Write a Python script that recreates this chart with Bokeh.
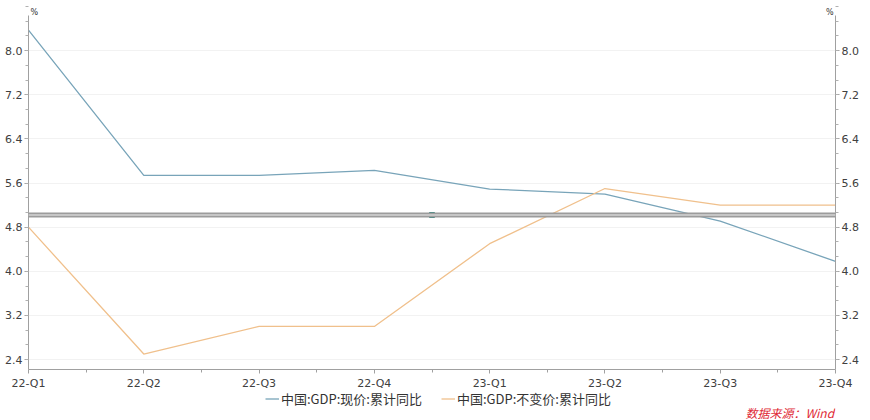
from bokeh.plotting import figure
from bokeh.layouts import column
from bokeh.models import (FixedTicker, LinearAxis, Range1d, Span, Label,
                          Legend, LegendItem, CustomJSTickFormatter)
from bokeh.embed import file_html
from bokeh.resources import INLINE

categories = ["22-Q1", "22-Q2", "22-Q3", "22-Q4", "23-Q1", "23-Q2", "23-Q3", "23-Q4"]
nominal = [8.37, 5.74, 5.74, 5.83, 5.49, 5.40, 4.91, 4.18]
real = [4.8, 2.5, 3.0, 3.0, 4.5, 5.5, 5.2, 5.2]
y_ticks = [2.4, 3.2, 4.0, 4.8, 5.6, 6.4, 7.2, 8.0]
target = 5.02
series_names = ["中国:GDP:现价:累计同比", "中国:GDP:不变价:累计同比"]
colors = ["#78a4b9", "#f0c08c"]
source_text = "数据来源：Wind"
unit = "%"

NUM_FONT = "DejaVu Sans"
CJK_FONT = "Noto Sans CJK SC"
x = list(range(len(categories)))

Y_MIN, Y_AXIS_TOP, Y_FRAME_TOP = 2.22, 8.63, 8.908

p = figure(width=870, height=392, output_backend="svg", toolbar_location=None,
           x_range=Range1d(0, len(categories) - 1), y_range=Range1d(Y_MIN, Y_FRAME_TOP),
           min_border_left=28, min_border_right=35, min_border_top=0, min_border_bottom=20)
p.outline_line_color = None
p.background_fill_color = "white"

# grid
p.xgrid.grid_line_color = None
p.ygrid.ticker = FixedTicker(ticks=y_ticks)
p.ygrid.grid_line_color = "#f2f2f2"
p.ygrid.grid_line_width = 1

step = 0.8 / 3
minor_y = [round(2.4 + step * i, 4) for i in range(-1, 25)]
minor_x = [i + 0.5 for i in range(len(categories) - 1)]

# x axis
xa = p.xaxis[0]
xa.ticker = FixedTicker(ticks=x, minor_ticks=minor_x)
xa.major_label_overrides = {i: c for i, c in enumerate(categories)}
xa.axis_line_color = "#a0a0a0"
xa.major_tick_line_color = "#a0a0a0"
xa.minor_tick_line_color = "#a0a0a0"
xa.major_tick_in = 0
xa.major_tick_out = 4
xa.minor_tick_in = 0
xa.minor_tick_out = 3
xa.major_label_text_font = NUM_FONT
xa.major_label_text_font_size = "11px"
xa.major_label_text_color = "#404040"
xa.major_label_standoff = 3

# y axes (left and right)
ya = p.yaxis[0]
ya.ticker = FixedTicker(ticks=y_ticks, minor_ticks=minor_y)
ya.formatter = CustomJSTickFormatter(code="return tick.toFixed(1);")

ya2 = LinearAxis(ticker=FixedTicker(ticks=y_ticks, minor_ticks=minor_y),
                 formatter=CustomJSTickFormatter(code="return tick.toFixed(1);"))
p.add_layout(ya2, "right")
for ax in [ya, ya2]:
    ax.bounds = (Y_MIN, Y_AXIS_TOP)
    ax.axis_line_color = "#a0a0a0"
    ax.major_tick_line_color = "#a0a0a0"
    ax.minor_tick_line_color = "#b0b0b0"
    ax.major_tick_in = 0
    ax.major_tick_out = 4
    ax.minor_tick_in = 0
    ax.minor_tick_out = 3
    ax.major_label_text_font = NUM_FONT
    ax.major_label_text_font_size = "11px"
    ax.major_label_text_color = "#404040"
    ax.major_label_standoff = 2

# target band
p.add_layout(Span(location=target, dimension="width", line_color="#9c9c9c", line_width=5))
p.add_layout(Span(location=target, dimension="width", line_color="#d4d4d4", line_width=1.5))
p.scatter([3.5], [target], marker="square", size=5, fill_color="#3aa59a",
          line_color="#1f7f76")

p.line(x, nominal, line_color=colors[0], line_width=1.3)
p.line(x, real, line_color=colors[1], line_width=1.3)

# % unit labels at top of both axes
p.add_layout(Label(x=0, y=Y_AXIS_TOP, text=unit, x_offset=2, y_offset=-1,
                   text_font=NUM_FONT, text_font_size="8px", text_color="#333333"))
p.add_layout(Label(x=len(categories) - 1, y=Y_AXIS_TOP, text=unit, x_offset=-2, y_offset=-1,
                   text_align="right", text_font=NUM_FONT, text_font_size="8px",
                   text_color="#333333"))

# footer: legend and source (frame aligned with the main plot's frame)
f = figure(width=870, height=28, output_backend="svg", toolbar_location=None,
           x_range=Range1d(0, 10), y_range=Range1d(0, 10),
           x_axis_type=None, y_axis_type=None,
           min_border_left=28, min_border_right=35, min_border_top=0, min_border_bottom=0)
f.outline_line_color = None
f.xgrid.grid_line_color = None
f.ygrid.grid_line_color = None
l1 = f.line([-20, -10], [-20, -20], line_color=colors[0], line_width=1.3)
l2 = f.line([-20, -10], [-20, -20], line_color=colors[1], line_width=1.3)
legend = Legend(items=[LegendItem(label=series_names[0], renderers=[l1]),
                       LegendItem(label=series_names[1], renderers=[l2])],
                orientation="horizontal", location=(237, 12),
                label_text_font=CJK_FONT, label_text_font_size="13px",
                label_text_color="#333333", glyph_width=14, glyph_height=15,
                spacing=19, padding=0, margin=0, border_line_color=None,
                background_fill_alpha=0, label_standoff=2, label_height=15)
f.add_layout(legend)
f.add_layout(Label(x=717, y=8, x_units="screen", y_units="screen", text=source_text,
                   text_baseline="middle", text_font=CJK_FONT, text_font_size="12px",
                   text_font_style="italic", text_color="#e02a36"))

layout = column(p, f, spacing=0)
open("out.html", "w").write(file_html(layout, INLINE))
